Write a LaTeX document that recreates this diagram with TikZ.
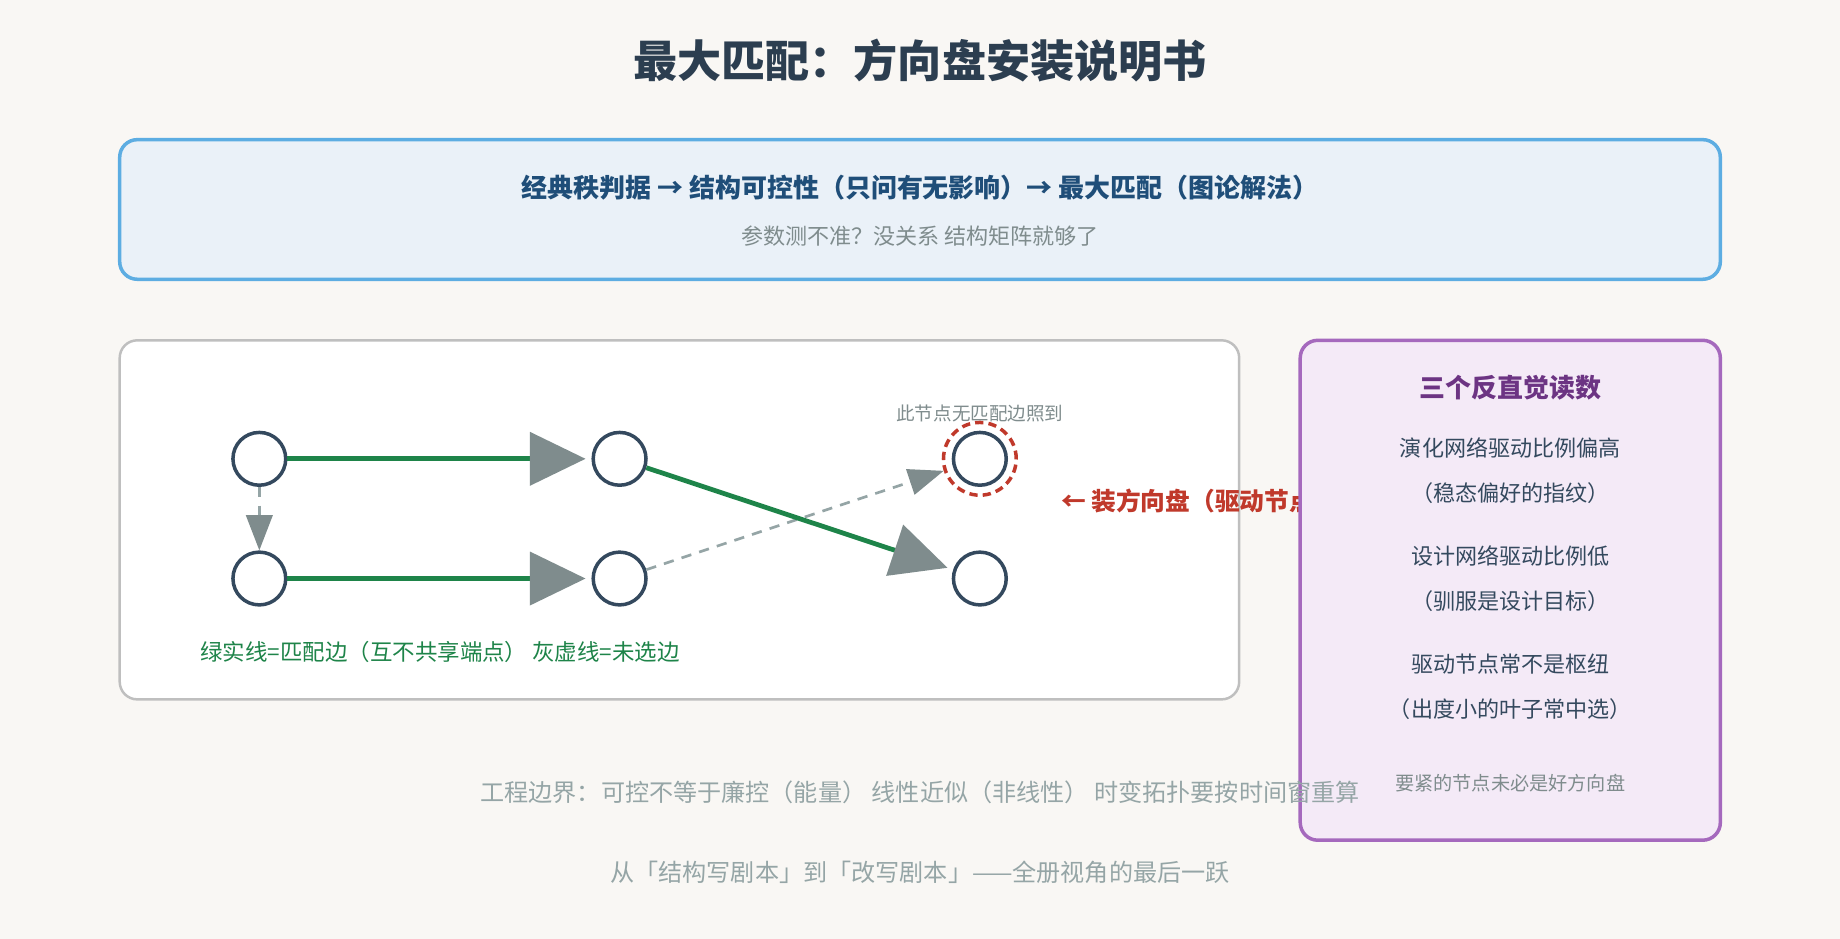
\documentclass[tikz,border=0pt]{standalone}
\usepackage{fontspec}
\setmainfont{Noto Sans CJK SC}
\usetikzlibrary{arrows.meta,positioning}
\definecolor{bgc}{HTML}{F9F7F4}
\definecolor{ink}{HTML}{2C3E50}
\definecolor{nodeblue}{HTML}{34495E}
\definecolor{matchgreen}{HTML}{1E8449}
\definecolor{tipgray}{HTML}{7F8C8D}
\definecolor{lightgray}{HTML}{95A5A6}
\definecolor{alertred}{HTML}{C0392B}
\definecolor{purpleline}{HTML}{A569BD}
\definecolor{purplefill}{HTML}{F4EAF7}
\definecolor{purpleink}{HTML}{6C3483}
\definecolor{blueline}{HTML}{5DADE2}
\definecolor{bluefill}{HTML}{EAF1F8}
\definecolor{blueink}{HTML}{1F4E79}

\begin{document}
\begin{tikzpicture}[x=0.02cm, y=-0.02cm,
    vertex/.style={circle, draw=nodeblue, line width=1.7pt, fill=white, minimum size=0.9cm, inner sep=0pt},
    matched/.style={draw=matchgreen, line width=2.3pt, -{Triangle[length=0.95cm, width=0.9cm, color=tipgray]}, shorten >=0.1cm},
    unused/.style={draw=lightgray, line width=1.3pt, dash pattern=on 5pt off 4pt, -{Triangle[length=0.6cm, width=0.45cm, color=tipgray]}},
    panel/.style={rounded corners=0.3cm, line width=1.7pt},
    txt/.style={font=\fontsize{10.7}{13}\selectfont, text=nodeblue}
]
% page
\fill[bgc] (0,0) rectangle (1568,800);
\node[font=\fontsize{21.4}{25}\selectfont\bfseries, text=ink] (title) at (784,52) {最大匹配：方向盘安装说明书};

% banner
\draw[panel, draw=blueline, fill=bluefill] (102,119) rectangle (1466,238);
\node[font=\fontsize{12.6}{15}\selectfont\bfseries, text=blueink] (chain) at (784,160) {经典秩判据 → 结构可控性（只问有无影响）→ 最大匹配（图论解法）};
\node[font=\fontsize{10.7}{13}\selectfont, text=tipgray] (note) at (784,201) {参数测不准？没关系 结构矩阵就够了};

% graph panel
\draw[panel, draw=black!25, line width=1.2pt, fill=white] (102,290) rectangle (1056,596);
\node[vertex] (a1) at (221,391) {};
\node[vertex] (b1) at (528,391) {};
\node[vertex] (c1) at (835,391) {};
\node[vertex] (a2) at (221,493) {};
\node[vertex] (b2) at (528,493) {};
\node[vertex] (c2) at (835,493) {};
\node[circle, draw=alertred, line width=1.7pt, dash pattern=on 4pt off 2.5pt, minimum size=1.24cm] (ring) at (c1) {};
\node[font=\fontsize{9}{11}\selectfont, text=tipgray] (ringlabel) at (835,352) {此节点无匹配边照到};

\draw[unused] (a1) -- (a2);
\draw[unused] (b2) -- (ring);
\draw[matched] (a1) -- (b1);
\draw[matched] (a2) -- (b2);
\draw[matched] (b1) -- (c2);
\node[font=\fontsize{10.9}{13}\selectfont, text=matchgreen] (legend) at (375,556) {绿实线=匹配边（互不共享端点） 灰虚线=未选边};
\node[font=\fontsize{12}{14}\selectfont\bfseries, text=alertred, anchor=west] (steer) at (898,427) {← 装方向盘（驱动节点）};

% readings panel
\draw[panel, draw=purpleline, fill=purplefill] (1108,290) rectangle (1466,716);
\node[font=\fontsize{12.6}{15}\selectfont\bfseries, text=purpleink] (rtitle) at (1287,330) {三个反直觉读数};
\node[txt] (r1) at (1287,382) {演化网络驱动比例偏高};
\node[txt] (r1b) at (1287,420) {（稳态偏好的指纹）};
\node[txt] (r2) at (1287,474) {设计网络驱动比例低};
\node[txt] (r2b) at (1287,512) {（驯服是设计目标）};
\node[txt] (r3) at (1287,566) {驱动节点常不是枢纽};
\node[txt] (r3b) at (1287,604) {（出度小的叶子常中选）};
\node[font=\fontsize{9.3}{11}\selectfont, text=tipgray] (r4) at (1287,667) {要紧的节点未必是好方向盘};

% footer
\node[font=\fontsize{11.7}{14}\selectfont, text=lightgray] (bounds) at (784,675) {工程边界：可控不等于廉控（能量） 线性近似（非线性） 时变拓扑要按时间窗重算};
\node[font=\fontsize{11.7}{14}\selectfont, text=lightgray] (closing) at (784,743) {从「结构写剧本」到「改写剧本」——全册视角的最后一跃};
\end{tikzpicture}
\end{document}
